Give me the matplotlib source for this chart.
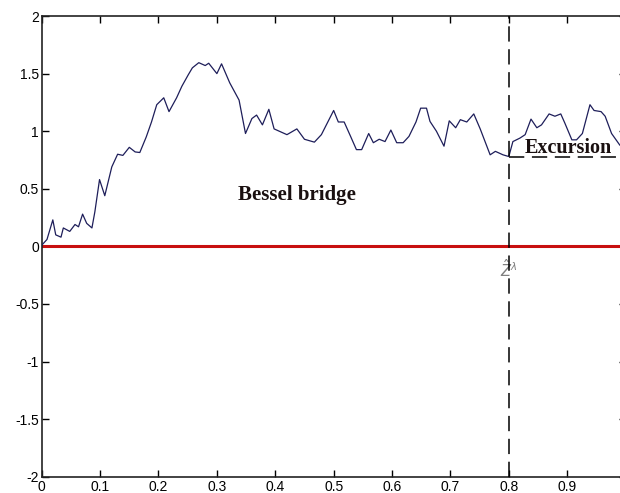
import matplotlib
matplotlib.use("Agg")
import matplotlib.pyplot as plt

# sample path
path_x = [0, .009, .019, .024, .033, .037, .048, .057, .063, .070,
          .077, .086, .091, .099, .108, .120, .130, .139, .150, .160,
          .168, .179, .188, .197, .209, .218, .231, .240, .251, .258,
          .269, .280, .286, .300, .308, .322, .338, .349, .360, .368,
          .378, .389, .398, .420, .437, .450, .467, .479, .500, .508,
          .518, .529, .539, .548, .560, .568, .578, .588, .598, .608,
          .619, .629, .641, .649, .659, .665, .676, .689, .698, .709,
          .717, .728, .740, .751, .768, .777, .790, .800, .807, .819,
          .828, .838, .848, .856, .869, .879, .889, .896, .908, .916,
          .926, .939, .946, .958, .965, .976, .990]
path_y = [0.01, 0.06, 0.23, 0.10, 0.08, 0.16, 0.13, 0.19, 0.17, 0.28,
          0.20, 0.16, 0.30, 0.58, 0.44, 0.69, 0.80, 0.79, 0.86, 0.82,
          0.815, 0.95, 1.08, 1.23, 1.29, 1.17, 1.29, 1.39, 1.49, 1.55,
          1.595, 1.57, 1.59, 1.50, 1.585, 1.42, 1.27, 0.98, 1.11, 1.14,
          1.055, 1.19, 1.02, 0.97, 1.02, 0.93, 0.905, 0.97, 1.18, 1.08,
          1.08, 0.955, 0.84, 0.84, 0.98, 0.90, 0.93, 0.91, 1.01, 0.90,
          0.90, 0.955, 1.08, 1.20, 1.20, 1.085, 1.00, 0.87, 1.09, 1.03,
          1.10, 1.08, 1.15, 1.02, 0.795, 0.825, 0.795, 0.78, 0.91, 0.94,
          0.97, 1.105, 1.03, 1.055, 1.15, 1.13, 1.15, 1.07, 0.925, 0.925,
          0.98, 1.23, 1.18, 1.17, 1.13, 0.98, 0.88]

z_lambda = 0.8
z_level = 0.78

# the x=1 label falls outside the cropped picture, so it is left empty
x_ticks = [0, 0.1, 0.2, 0.3, 0.4, 0.5, 0.6, 0.7, 0.8, 0.9, 1.0]
x_labels = ["0", "0.1", "0.2", "0.3", "0.4", "0.5", "0.6", "0.7", "0.8", "0.9", ""]
y_ticks = [-2, -1.5, -1, -0.5, 0, 0.5, 1, 1.5, 2]
y_labels = ["-2", "-1.5", "-1", "-0.5", "0", "0.5", "1", "1.5", "2"]

plt.rcParams['font.family'] = ['Liberation Sans', 'DejaVu Sans']

fig = plt.figure(figsize=(6.2, 4.93), dpi=100)
ax = fig.add_axes([0.0673, 0.033, 0.9417, 0.9345])

ax.axhline(0, color='#c81010', lw=2.2, zorder=2)
ax.plot(path_x, path_y, color='#1e1e5a', lw=0.9, zorder=3)
ax.axvline(z_lambda, color='black', lw=1.1, ls=(0, (10, 5)), zorder=4)
ax.plot([z_lambda, 1.0], [z_level, z_level], color='black', lw=1.1,
        ls=(0, (10, 5)), zorder=4)

ax.text(0.336, 0.45, "Bessel bridge", family='Liberation Serif', weight='bold',
        fontsize=15, color='#1a1010', va='center', ha='left')
ax.text(0.827, 0.85, "Excursion", family='Liberation Serif', weight='bold',
        fontsize=14.5, color='#1a1010', va='center', ha='left', zorder=5)
ax.text(z_lambda, -0.2, r"$\hat{Z}^{\lambda}$", fontsize=10.5, color='#808080',
        ha='center', va='center')

ax.set_xlim(0, 1)
ax.set_ylim(-2, 2)
ax.set_xticks(x_ticks)
ax.set_xticklabels(x_labels)
ax.set_yticks(y_ticks)
ax.set_yticklabels(y_labels)
ax.tick_params(direction='in', top=True, right=True, length=5, width=1,
               labelsize=10, pad=2)
for s in ax.spines.values():
    s.set_linewidth(1.2)
    s.set_color('#222222')

fig.savefig("out.png", dpi=100)
